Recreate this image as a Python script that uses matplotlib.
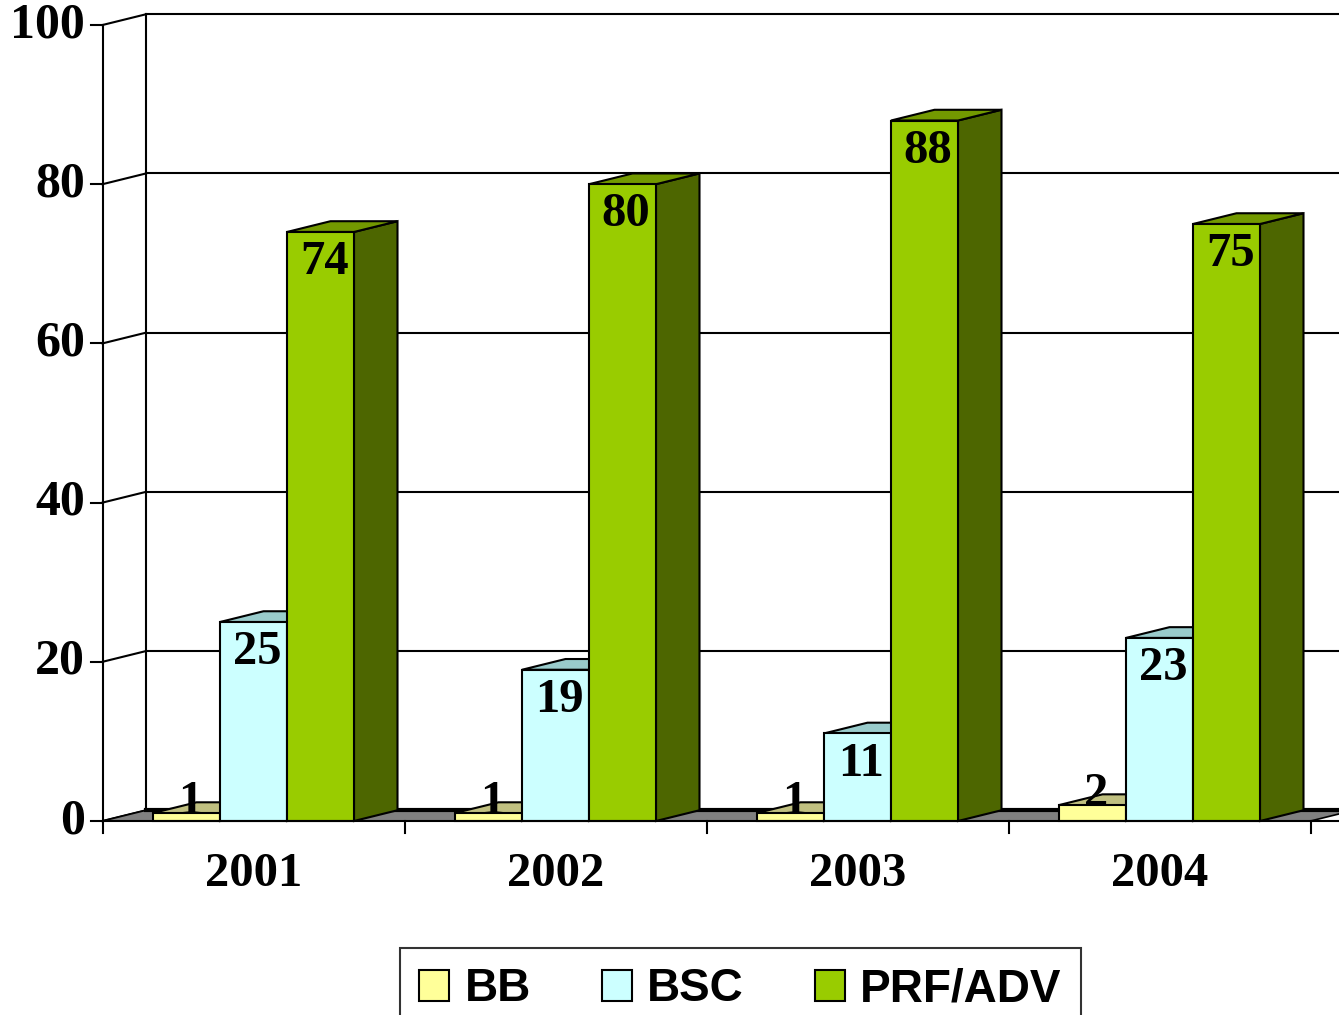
import matplotlib.pyplot as plt
from matplotlib.patches import Polygon, Patch

years = ['2001', '2002', '2003', '2004']
series = ['BB', 'BSC', 'PRF/ADV']
bb = [1, 1, 1, 2]
bsc = [25, 19, 11, 23]
prf = [74, 80, 88, 75]
yticks = [0, 20, 40, 60, 80, 100]

front = ['#FFFF99', '#CCFFFF', '#99CC00']
top = ['#C0C080', '#99CCCC', '#739900']
side = ['#808040', '#669999', '#4D6600']

serif = 'Liberation Serif'
sans = 'Liberation Sans'

W, H = 1339, 1015
fig = plt.figure(figsize=(W / 100, H / 100), dpi=100)
ax = fig.add_axes([102.5 / W, (H - 821) / H, 1208 / W, 796 / H])
ax.set_xlim(0, 4)
ax.set_ylim(0, 100)
ax.axis('off')

# 3d depth offset in data units
dx = 43.5 / 302
dy = 1.35
xmax = 4.2

def poly(pts, fc, z, lw=1.5):
    ax.add_patch(Polygon(pts, closed=True, facecolor=fc, edgecolor='black',
                         lw=lw, zorder=z, clip_on=False, joinstyle='miter'))

# back wall gridlines and left wall
for v in yticks:
    if v > 0:
        ax.plot([dx, xmax], [v + dy, v + dy], color='black', lw=1.5, zorder=1, clip_on=False)
    ax.plot([0, dx], [v, v + dy], color='black', lw=1.5, zorder=1, clip_on=False)
    ax.plot([-0.038, 0], [v, v], color='black', lw=1.5, zorder=1, clip_on=False)
    ax.text(-0.058, v, str(v), ha='right', va='center', fontsize=36,
            fontweight='bold', family=serif)
ax.plot([dx, dx], [dy, 100 + dy], color='black', lw=1.5, zorder=1, clip_on=False)
ax.plot([0, 0], [0, 100], color='black', lw=1.5, zorder=6, clip_on=False)

# floor
poly([(0, 0), (4, 0), (4 + dx, dy), (0 + dx, dy)], '#808080', 2, lw=1.2)
ax.plot([dx, xmax], [dy, dy], color='black', lw=3, zorder=2, clip_on=False)
ax.plot([0, xmax], [0, 0], color='black', lw=1.5, zorder=6, clip_on=False)

# x ticks and labels
for i in range(5):
    ax.plot([i, i], [0, -1.5], color='black', lw=1.5, zorder=6, clip_on=False)
for i, yr in enumerate(years):
    ax.text(i + 0.5, -6.6, yr, ha='center', va='center', fontsize=35,
            fontweight='bold', family=serif)

# bars
bw = 67 / 302
off = 50.5 / 302
for i in range(len(years)):
    for j, vals in enumerate([bb, bsc, prf]):
        v = vals[i]
        x0 = i + off + j * bw
        x1 = x0 + bw
        z = 3 + j
        poly([(x1, 0), (x1 + dx, dy), (x1 + dx, v + dy), (x1, v)], side[j], z)
        poly([(x0, v), (x1, v), (x1 + dx, v + dy), (x0 + dx, v + dy)], top[j], z)
        poly([(x0, 0), (x1, 0), (x1, v), (x0, v)], front[j], z)
        ly = v - 3.8 if v >= 5 else v + 1.4
        ax.text((x0 + x1) / 2 + 0.012, ly, str(v), ha='center', va='center',
                fontsize=35, fontweight='bold', family=serif, zorder=10)

handles = [Patch(facecolor=front[j], edgecolor='black', lw=1.5) for j in range(3)]
leg = fig.legend(handles, series, loc='upper center', ncol=3,
                 bbox_to_anchor=(740.5 / W, 1 - 948 / H), borderaxespad=0,
                 prop={'family': sans, 'weight': 'bold', 'size': 33},
                 handlelength=0.66, handleheight=0.66, handletextpad=0.33,
                 columnspacing=1.55, borderpad=0.42, fancybox=False,
                 frameon=True, edgecolor='black')
leg.get_frame().set_linewidth(1.5)

fig.savefig('out.png', dpi=100)
